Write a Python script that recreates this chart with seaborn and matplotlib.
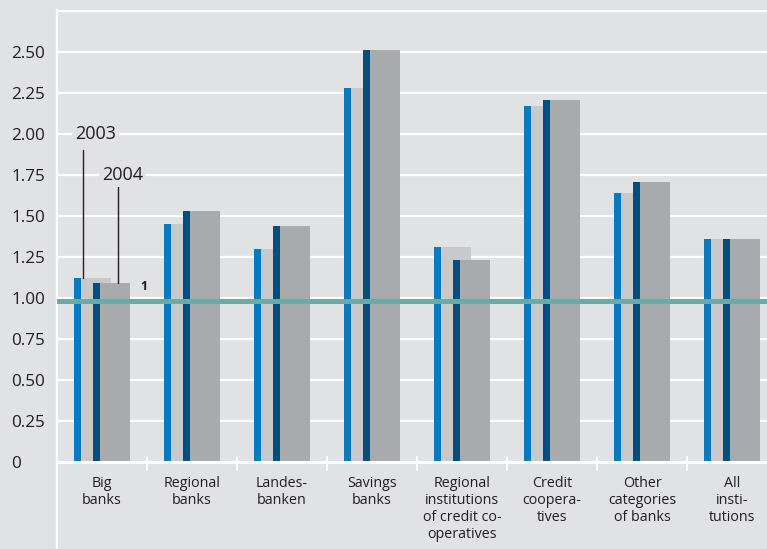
import matplotlib
matplotlib.use("Agg")
import matplotlib.pyplot as plt
import numpy as np
import pandas as pd
import seaborn as sns

categories = [
    "Big\nbanks",
    "Regional\nbanks",
    "Landes-\nbanken",
    "Savings\nbanks",
    "Regional\ninstitutions\nof credit co-\noperatives",
    "Credit\ncoopera-\ntives",
    "Other\ncategories\nof banks",
    "All\ninsti-\ntutions",
]
values_2003 = [1.12, 1.45, 1.30, 2.28, 1.31, 2.17, 1.64, 1.36]
values_2004 = [1.09, 1.53, 1.44, 2.51, 1.23, 2.21, 1.71, 1.36]
y_ticks = [0, 0.25, 0.50, 0.75, 1.00, 1.25, 1.50, 1.75, 2.00, 2.25, 2.50]
y_tick_labels = ["0", "0.25", "0.50", "0.75", "1.00", "1.25", "1.50",
                 "1.75", "2.00", "2.25", "2.50"]
reference_level = 0.98

BG = "#e1e2e4"
BLUE = "#0a7abf"
LIGHT_GRAY = "#c8c9cb"
DARK_BLUE = "#024e7e"
GRAY = "#a9aaac"
TEAL = "#6aaba6"
TEXT = "#231f20"

sns.set_theme(style="white")
plt.rcParams["font.family"] = ["Open Sans", "DejaVu Sans"]

W, H = 767, 549
fig = plt.figure(figsize=(W / 100, H / 100), dpi=100)
fig.patch.set_facecolor(BG)

# axes: left edge at x=57 px, 90 px per category, top at 2.75 gridline
left_px, top_px, bottom_px = 57, 10, 549
unit_px = 90
ax = fig.add_axes([left_px / W, 0, 8 * unit_px / W, (bottom_px - top_px) / H])
ax.set_facecolor(BG)

idx = np.arange(len(categories))
bar_w = 0.41
strip_w = 0.078
offset = 0.105

df = pd.DataFrame({
    "idx": idx,
    "v2003": values_2003,
    "v2004": values_2004,
})

# grid lines behind bars
for g in np.arange(0.25, 2.76, 0.25):
    ax.axhline(g, color="white", lw=1.6, zorder=0)

layers = [
    ("v2003", -offset, bar_w, LIGHT_GRAY),
    ("v2003", -offset - bar_w / 2 + strip_w / 2, strip_w, BLUE),
    ("v2004", offset, bar_w, GRAY),
    ("v2004", offset - bar_w / 2 + strip_w / 2, strip_w, DARK_BLUE),
]
for col, shift, width, color in layers:
    sns.barplot(
        x=df["idx"] + shift, y=df[col], ax=ax, native_scale=True,
        orient="x", width=width, color=color, saturation=1,
        errorbar=None, linewidth=0, zorder=2,
    )

# baseline and category separators
ax.axhline(0, color="white", lw=2.2, zorder=3)
for s in idx[1:] - 0.5:
    ax.plot([s, s], [-0.05, 0.03], color="white", lw=1.3, zorder=3)

# reference line at one
ax.axhline(reference_level, color=TEAL, lw=3.6, zorder=4)
ax.text(0.47, 1.07, "1", fontsize=9, fontweight="bold", color=TEXT,
        ha="center", va="center", zorder=5)

# year annotations
ax.plot([-0.208, -0.208], [values_2003[0], 1.90], color=TEXT, lw=1.0, zorder=5)
ax.plot([0.174, 0.174], [values_2004[0], 1.68], color=TEXT, lw=1.0, zorder=5)
ax.text(-0.07, 2.0, "2003", fontsize=13, color=TEXT, ha="center", va="center",
        zorder=5, bbox=dict(facecolor=BG, edgecolor="none", pad=2))
ax.text(0.23, 1.75, "2004", fontsize=13, color=TEXT, ha="center", va="center",
        zorder=5, bbox=dict(facecolor=BG, edgecolor="none", pad=2))

# category labels under the baseline
for i, lab in enumerate(categories):
    ax.text(i, -0.085, lab, fontsize=10.3, color=TEXT, ha="center", va="top",
            linespacing=1.17)

ax.set_xlim(-0.5, 7.5)
ax.set_ylim(-(bottom_px - 462) / 164, (462 - top_px) / 164)
ax.set_xticks([])
ax.set_yticks(y_ticks)
ax.set_yticklabels(y_tick_labels, fontsize=12.3, color=TEXT)
ax.tick_params(axis="y", length=0, pad=33)
for lbl in ax.get_yticklabels():
    lbl.set_horizontalalignment("left")
ax.set_xlabel("")
ax.set_ylabel("")
for side in ["top", "right", "bottom"]:
    ax.spines[side].set_visible(False)
ax.spines["left"].set_color("white")
ax.spines["left"].set_linewidth(1.6)

fig.savefig("out.png", dpi=100, facecolor=BG)
